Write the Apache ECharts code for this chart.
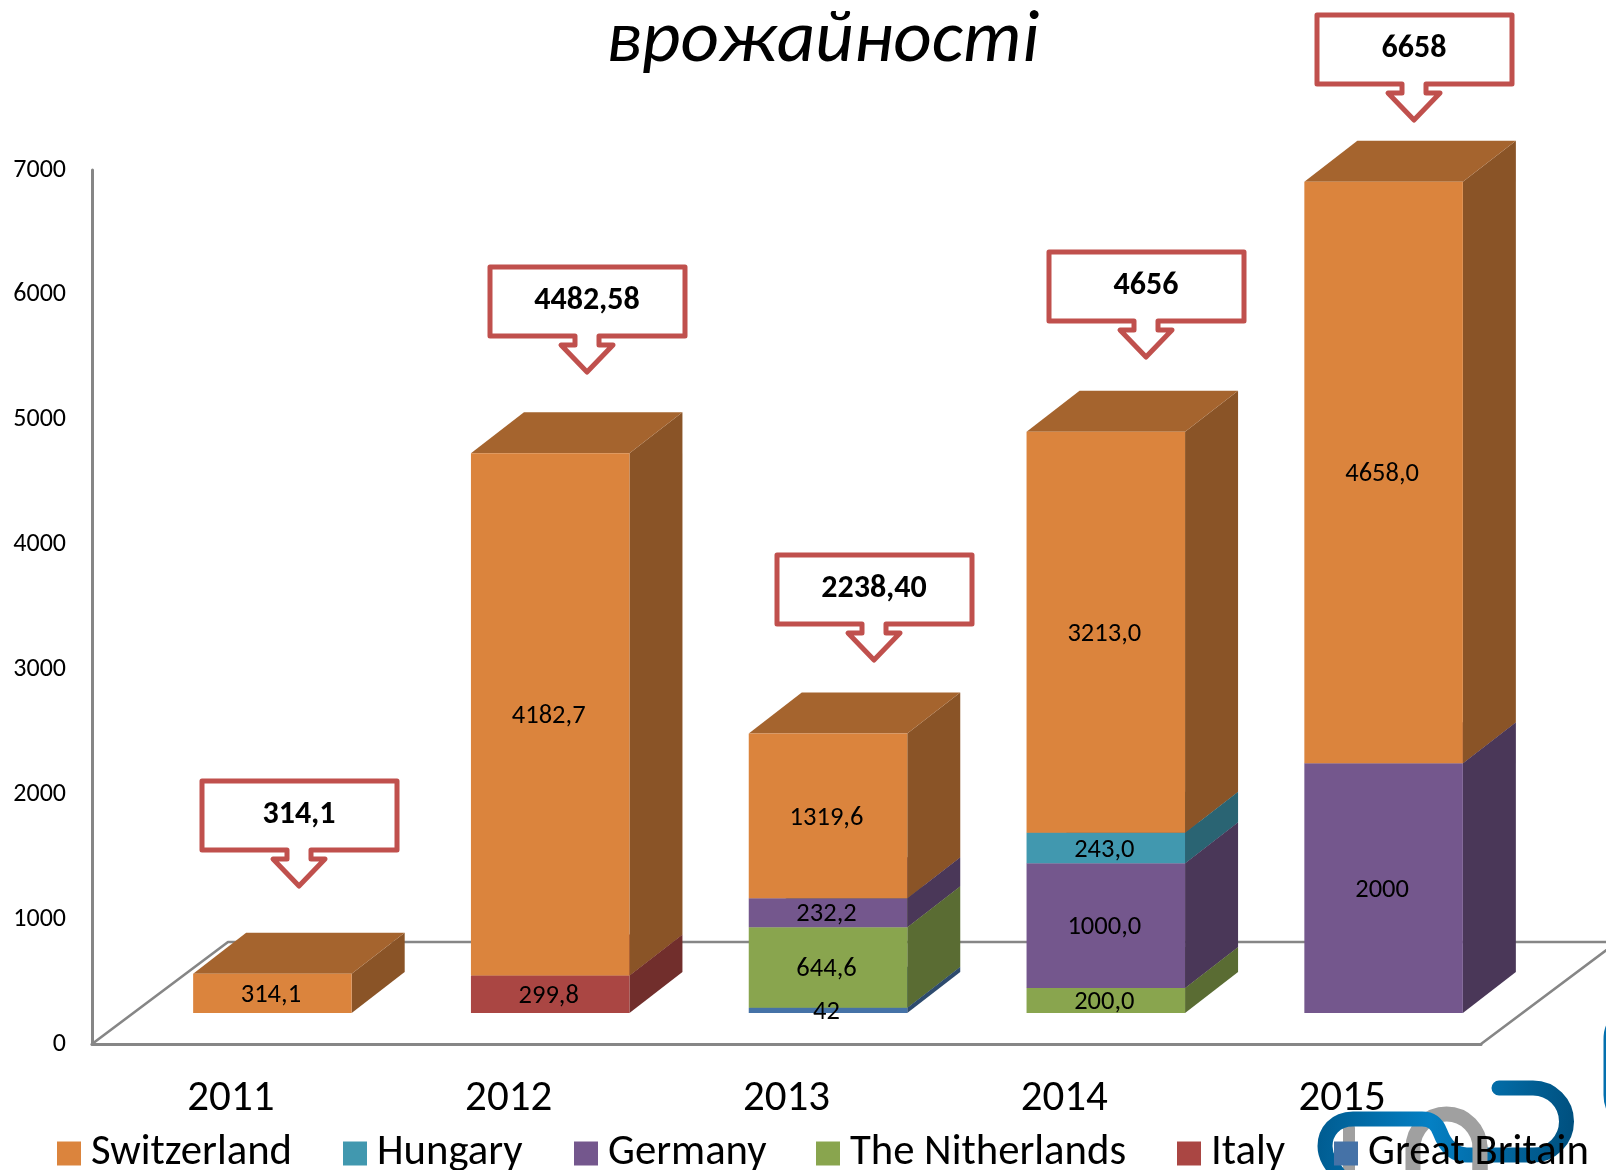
<!DOCTYPE html>
<html>
<head>
<meta charset="utf-8">
<style>html,body{margin:0;padding:0;background:#fff;overflow:hidden}#c{width:1606px;height:1170px}</style>
<script src="https://cdn.jsdelivr.net/npm/echarts@6/dist/echarts.min.js"></script>
</head>
<body>
<div id="c"></div>
<script>
const years = ['2011','2012','2013','2014','2015'];
const greatBritain = [0,0,42,0,0];
const italy = [0,299.8,0,0,0];
const netherlands = [0,0,644.6,200,0];
const germany = [0,0,232.2,1000,2000];
const hungary = [0,0,0,243,0];
const switzerland = [314.1,4182.7,1319.6,3213,4658];
const greatBritainLabels = ['','','42','',''];
const italyLabels = ['','299,8','','',''];
const netherlandsLabels = ['','','644,6','200,0',''];
const germanyLabels = ['','','232,2','1000,0','2000'];
const hungaryLabels = ['','','','243,0',''];
const switzerlandLabels = ['314,1','4182,7','1319,6','3213,0','4658,0'];
const totalLabels = ['314,1','4482,58','2238,40','4656','6658'];

const FONT = 'Carlito, Calibri, Lato, sans-serif';
const BAR_RATIO = 0.5706, BAR_SHIFT = 0.1494, DX = 53, DY = 41, LIFT = 31;

const seriesDefs = [
  {name:'Great Britain', values:greatBritain, labels:greatBritainLabels, front:'#4572A7', side:'#2E4B6E', top:'#375B85'},
  {name:'Italy', values:italy, labels:italyLabels, front:'#AA4643', side:'#712E2C', top:'#883835'},
  {name:'The Nitherlands', values:netherlands, labels:netherlandsLabels, front:'#89A54E', side:'#5A6C33', top:'#6D843E'},
  {name:'Germany', values:germany, labels:germanyLabels, front:'#74578D', side:'#4A3758', top:'#5C4570'},
  {name:'Hungary', values:hungary, labels:hungaryLabels, front:'#4198AF', side:'#2A6473', top:'#34798C'},
  {name:'Switzerland', values:switzerland, labels:switzerlandLabels, front:'#DB843D', side:'#8A5427', top:'#A5642E'}
];

const running = years.map(() => 0);
const barSeries = seriesDefs.map((def) => {
  const data = [];
  def.values.forEach((v, c) => {
    if (v > 0) { data.push([c, running[c], running[c] + v, def.labels[c]]); running[c] += v; }
  });
  return {
    type:'custom', name:def.name, z:2, data,
    itemStyle:{color:def.front},
    encode:{x:0, y:[1,2]},
    clip:false,
    renderItem(params, api) {
      const c = api.value(0);
      const band = api.size([1,0])[0];
      const w = band * BAR_RATIO;
      const cx = api.coord([c, 0])[0] + band * BAR_SHIFT;
      const y0 = api.coord([c, api.value(1)])[1] - LIFT;
      const y1 = api.coord([c, api.value(2)])[1] - LIFT;
      const l = cx - w / 2, r = cx + w / 2;
      return {
        type:'group',
        children:[
          {type:'polygon', shape:{points:[[r,y0],[r+DX,y0-DY],[r+DX,y1-DY],[r,y1]]}, style:{fill:def.side}},
          {type:'polygon', shape:{points:[[l,y1],[r,y1],[r+DX,y1-DY],[l+DX,y1-DY]]}, style:{fill:def.top}},
          {type:'rect', shape:{x:l, y:y1, width:w, height:y0-y1}, style:{fill:def.front}},
          {type:'text', z2:100, style:{x:cx-1.5, y:(y0+y1)/2+2, text:data[params.dataIndex][3], fill:'#000', font:'26.5px ' + FONT, align:'center', verticalAlign:'middle'}}
        ]
      };
    }
  };
});

const calloutTips = [[299,886],[587,372],[874,660],[1146,357],[1414,120]];
function calloutShape(t) {
  const [x,y] = t;
  return [[x-97,y-105],[x+98,y-105],[x+98,y-36],[x+12,y-36],[x+12,y-27],[x+26,y-27],[x,y],[x-26,y-27],[x-12,y-27],[x-12,y-36],[x-97,y-36]];
}
const graphics = [];
calloutTips.forEach((t, i) => {
  graphics.push({type:'polygon', z:50, shape:{points:calloutShape(t)}, style:{fill:'#fff', stroke:'#C0504D', lineWidth:5, lineJoin:'round'}});
  graphics.push({type:'text', z:51, x:t[0], y:t[1]-71.5, style:{text:totalLabels[i], fill:'#000', font:'bold 32px ' + FONT, align:'center', verticalAlign:'middle'}});
});

const blue = {type:'linear', x:0, y:0, x2:1, y2:0.3, colorStops:[{offset:0,color:'#005A8E'},{offset:0.45,color:'#0480C4'},{offset:1,color:'#00507F'}]};
const decor = {
  type:'custom', coordinateSystem:'none', z:0, silent:true, data:[[0]],
  renderItem() {
    const p = (d, stroke, lw) => ({type:'path', shape:{pathData:d}, style:{fill:'none', stroke, lineWidth:lw, lineCap:'round', lineJoin:'round'}});
    return {type:'group', children:[
      p('M92 1044 L228 942 L1620 942 M1481 1044 L1620 940', '#868686', 2.6),
      p('M1349 1128 L1349 1176', '#A0A0A0', 12),
      p('M1413 1176 L1413 1148 A33.5 34 0 0 1 1480 1148 L1480 1176', '#A0A0A0', 15),
      p('M1499 1088 L1533 1088 A33.5 33.5 0 0 1 1533 1155 L1467 1155 C1450 1155 1443 1140 1440 1132 C1437 1124 1432 1119 1422 1119 L1353 1119 C1335 1119 1325 1132 1325 1146 C1325 1158 1332 1166 1340 1176', blue, 15),
      p('M1480 1146 L1480 1176', '#A0A0A0', 15),
      p('M1625 1022 C1612 1024 1611 1030 1611 1040 L1611 1095 C1611 1105 1614 1112 1625 1114', '#0470AE', 15)
    ]};
  }
};

const legendItems = [
  ['Switzerland',57],['Hungary',343],['Germany',574],['The Nitherlands',816],['Italy',1177],['Great Britain',1334]
];

const chart = echarts.init(document.getElementById('c'), null, {renderer:'canvas'});
chart.setOption({
  animation:false,
  backgroundColor:'#fff',
  title:{text:'врожайності', left:601, top:0, textStyle:{fontFamily:FONT, fontStyle:'italic', fontWeight:'normal', fontSize:75, color:'#000'}},
  legend:legendItems.map(([name,x]) => ({
    data:[name], left:x, top:1132, padding:0, itemWidth:24, itemHeight:24, icon:'rect', selectedMode:false,
    textStyle:{fontFamily:FONT, fontSize:42.7, color:'#000', padding:[0,0,0,5], lineHeight:24}
  })),
  grid:{left:92, top:170, width:1389, height:874, containLabel:false},
  xAxis:{type:'category', data:years, boundaryGap:true,
    axisLine:{lineStyle:{color:'#868686', width:3}}, axisTick:{show:false},
    axisLabel:{fontFamily:FONT, fontSize:43, color:'#000', margin:34}, splitLine:{show:false}},
  yAxis:{type:'value', min:0, max:7000, interval:1000,
    axisLine:{show:true, lineStyle:{color:'#868686', width:3}}, axisTick:{show:false},
    axisLabel:{fontFamily:FONT, fontSize:26, color:'#000', margin:26, padding:[6,0,0,0], formatter:(v) => String(v)}, splitLine:{show:false}},
  graphic:graphics,
  series:[decor].concat(barSeries)
});
</script>
</body>
</html>
